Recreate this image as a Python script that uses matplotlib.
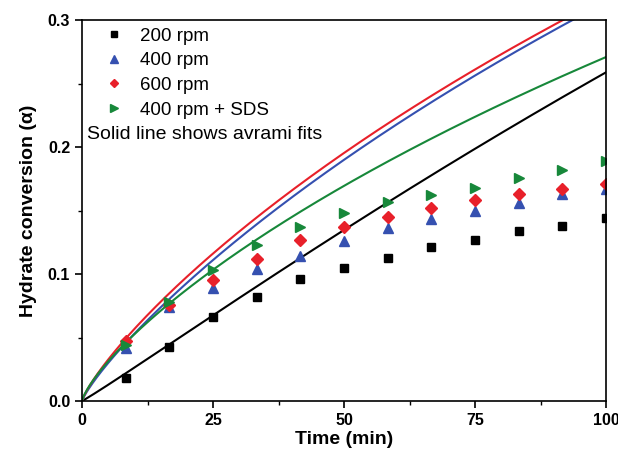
import numpy as np
import matplotlib
matplotlib.use('Agg')
import matplotlib.pyplot as plt
from matplotlib.ticker import MultipleLocator, FormatStrFormatter

plt.rcParams['font.family'] = ['Liberation Sans', 'DejaVu Sans']

# Measured conversion (time in min)
time = [8.33, 16.67, 25.0, 33.33, 41.67, 50.0, 58.33, 66.67, 75.0, 83.33, 91.67, 100.0]
rpm200 = [0.018, 0.0425, 0.066, 0.082, 0.096, 0.105, 0.113, 0.121, 0.127, 0.134, 0.138, 0.144]
rpm400 = [0.0415, 0.074, 0.089, 0.104, 0.114, 0.126, 0.136, 0.143, 0.150, 0.156, 0.163, 0.167]
rpm600 = [0.047, 0.076, 0.095, 0.112, 0.127, 0.137, 0.145, 0.152, 0.158, 0.163, 0.167, 0.171]
rpm400_sds = [0.044, 0.078, 0.103, 0.123, 0.137, 0.148, 0.157, 0.162, 0.168, 0.176, 0.182, 0.189]

# Avrami fit parameters: alpha = 1 - exp(-k t^n)
avrami_k = [0.00238, 0.00788, 0.00893, 0.00924]
avrami_n = [1.05, 0.84, 0.816, 0.767]

labels = ['200 rpm', '400 rpm', '600 rpm', '400 rpm + SDS']
colors = ['black', '#3550b0', '#e8202a', '#17883a']
markers = ['s', '^', 'D', '>']
msizes = [6, 7, 6, 7]
series = [rpm200, rpm400, rpm600, rpm400_sds]

fig = plt.figure(figsize=(6.18, 4.57), dpi=100)
ax = fig.add_axes([0.1327, 0.1225, 0.848, 0.8335])

t = np.linspace(0, 100, 400)
for k, n, c in zip(avrami_k, avrami_n, colors):
    ax.plot(t, 1 - np.exp(-k * t ** n), color=c, lw=1.5)

for y, lab, c, m, s in zip(series, labels, colors, markers, msizes):
    ax.plot(time, y, linestyle='none', marker=m, color=c, ms=s, label=lab)

ax.set_xlim(0, 100)
ax.set_ylim(0, 0.3)
ax.xaxis.set_major_locator(MultipleLocator(25))
ax.xaxis.set_minor_locator(MultipleLocator(12.5))
ax.yaxis.set_major_locator(MultipleLocator(0.1))
ax.yaxis.set_minor_locator(MultipleLocator(0.05))
ax.yaxis.set_major_formatter(FormatStrFormatter('%.1f'))
ax.tick_params(which='major', direction='out', length=5, width=1.2, labelsize=11.5)
ax.tick_params(which='minor', direction='out', length=3, width=1.0)
for lbl in ax.get_xticklabels() + ax.get_yticklabels():
    lbl.set_fontweight('bold')
for sp in ax.spines.values():
    sp.set_linewidth(1.2)

ax.set_xlabel('Time (min)', fontsize=14, fontweight='bold', labelpad=2)
ax.set_ylabel('Hydrate conversion (\u03b1)', fontsize=14, fontweight='bold', labelpad=8)

leg = ax.legend(loc='upper left', frameon=False, fontsize=13.5, handlelength=1.0,
                handletextpad=0.9, labelspacing=0.4, borderaxespad=0.0,
                markerscale=0.75, bbox_to_anchor=(0.028, 1.0))
ax.text(0.01, 0.70, 'Solid line shows avrami fits', transform=ax.transAxes,
        fontsize=14, va='center', ha='left')

plt.savefig('out.png', dpi=100)
